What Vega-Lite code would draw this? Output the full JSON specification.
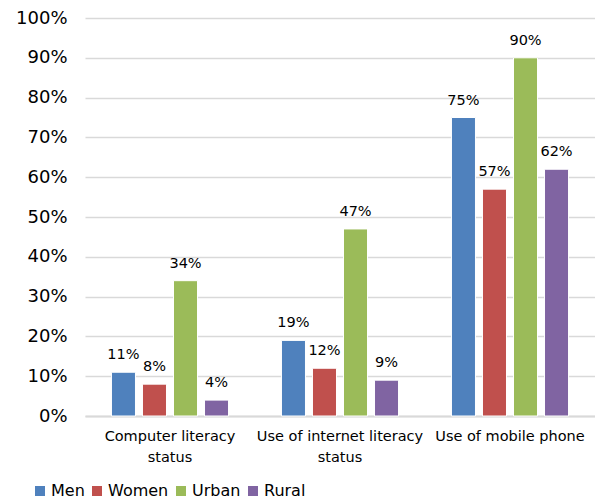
{
  "$schema": "https://vega.github.io/schema/vega-lite/v6.json",
  "width": 510,
  "height": 398,
  "autosize": "none",
  "padding": {"left": 85, "top": 18, "right": 0, "bottom": 85},
  "background": "white",
  "config": {
    "font": "DejaVu Sans",
    "view": {"stroke": null}
  },
  "data": {
    "values": [
      {"category": "Computer literacy status", "group": "Men", "value": 0.11},
      {"category": "Computer literacy status", "group": "Women", "value": 0.08},
      {"category": "Computer literacy status", "group": "Urban", "value": 0.34},
      {"category": "Computer literacy status", "group": "Rural", "value": 0.04},
      {"category": "Use of internet literacy status", "group": "Men", "value": 0.19},
      {"category": "Use of internet literacy status", "group": "Women", "value": 0.12},
      {"category": "Use of internet literacy status", "group": "Urban", "value": 0.47},
      {"category": "Use of internet literacy status", "group": "Rural", "value": 0.09},
      {"category": "Use of mobile phone", "group": "Men", "value": 0.75},
      {"category": "Use of mobile phone", "group": "Women", "value": 0.57},
      {"category": "Use of mobile phone", "group": "Urban", "value": 0.90},
      {"category": "Use of mobile phone", "group": "Rural", "value": 0.62}
    ]
  },
  "encoding": {
    "x": {
      "field": "category",
      "type": "nominal",
      "sort": null,
      "scale": {"paddingInner": 0, "paddingOuter": 0},
      "axis": {
        "title": null,
        "labelAngle": 0,
        "ticks": false,
        "domainColor": "#d9d9d9",
        "domainWidth": 2,
        "labelFontSize": 14.5,
        "labelColor": "#000000",
        "labelPadding": 13,
        "labelLineHeight": 21,
        "labelOverlap": false,
        "labelExpr": "datum.label == 'Computer literacy status' ? ['Computer literacy', 'status'] : datum.label == 'Use of internet literacy status' ? ['Use of internet literacy', 'status'] : datum.label"
      }
    },
    "xOffset": {
      "field": "group",
      "type": "nominal",
      "sort": ["Men", "Women", "Urban", "Rural"],
      "scale": {"paddingInner": 0.226, "paddingOuter": 0.853}
    },
    "y": {
      "field": "value",
      "type": "quantitative",
      "scale": {"domain": [0, 1]},
      "axis": {
        "title": null,
        "format": ".0%",
        "values": [0, 0.1, 0.2, 0.3, 0.4, 0.5, 0.6, 0.7, 0.8, 0.9, 1],
        "labelOverlap": false,
        "domain": false,
        "ticks": false,
        "gridColor": "#d9d9d9",
        "gridWidth": 1.5,
        "labelFontSize": 18,
        "labelColor": "#000000",
        "labelPadding": 18
      }
    }
  },
  "layer": [
    {
      "mark": {"type": "bar", "stroke": "white", "strokeWidth": 1},
      "encoding": {
        "color": {
          "field": "group",
          "type": "nominal",
          "sort": ["Men", "Women", "Urban", "Rural"],
          "scale": {
            "domain": ["Men", "Women", "Urban", "Rural"],
            "range": ["#4f81bd", "#c0504d", "#9bbb59", "#8064a2"]
          },
          "legend": {
            "title": null,
            "orient": "none",
            "direction": "horizontal",
            "legendX": -53,
            "legendY": 465,
            "symbolType": "square",
            "symbolSize": 100,
            "symbolStrokeWidth": 0,
            "labelFontSize": 16,
            "labelColor": "#000000",
            "labelOffset": 3,
            "columnPadding": 4
          }
        }
      }
    },
    {
      "mark": {"type": "text", "baseline": "bottom", "dy": -10, "fontSize": 14.5, "color": "#000000"},
      "encoding": {
        "text": {"field": "value", "type": "quantitative", "format": ".0%"}
      }
    }
  ]
}
